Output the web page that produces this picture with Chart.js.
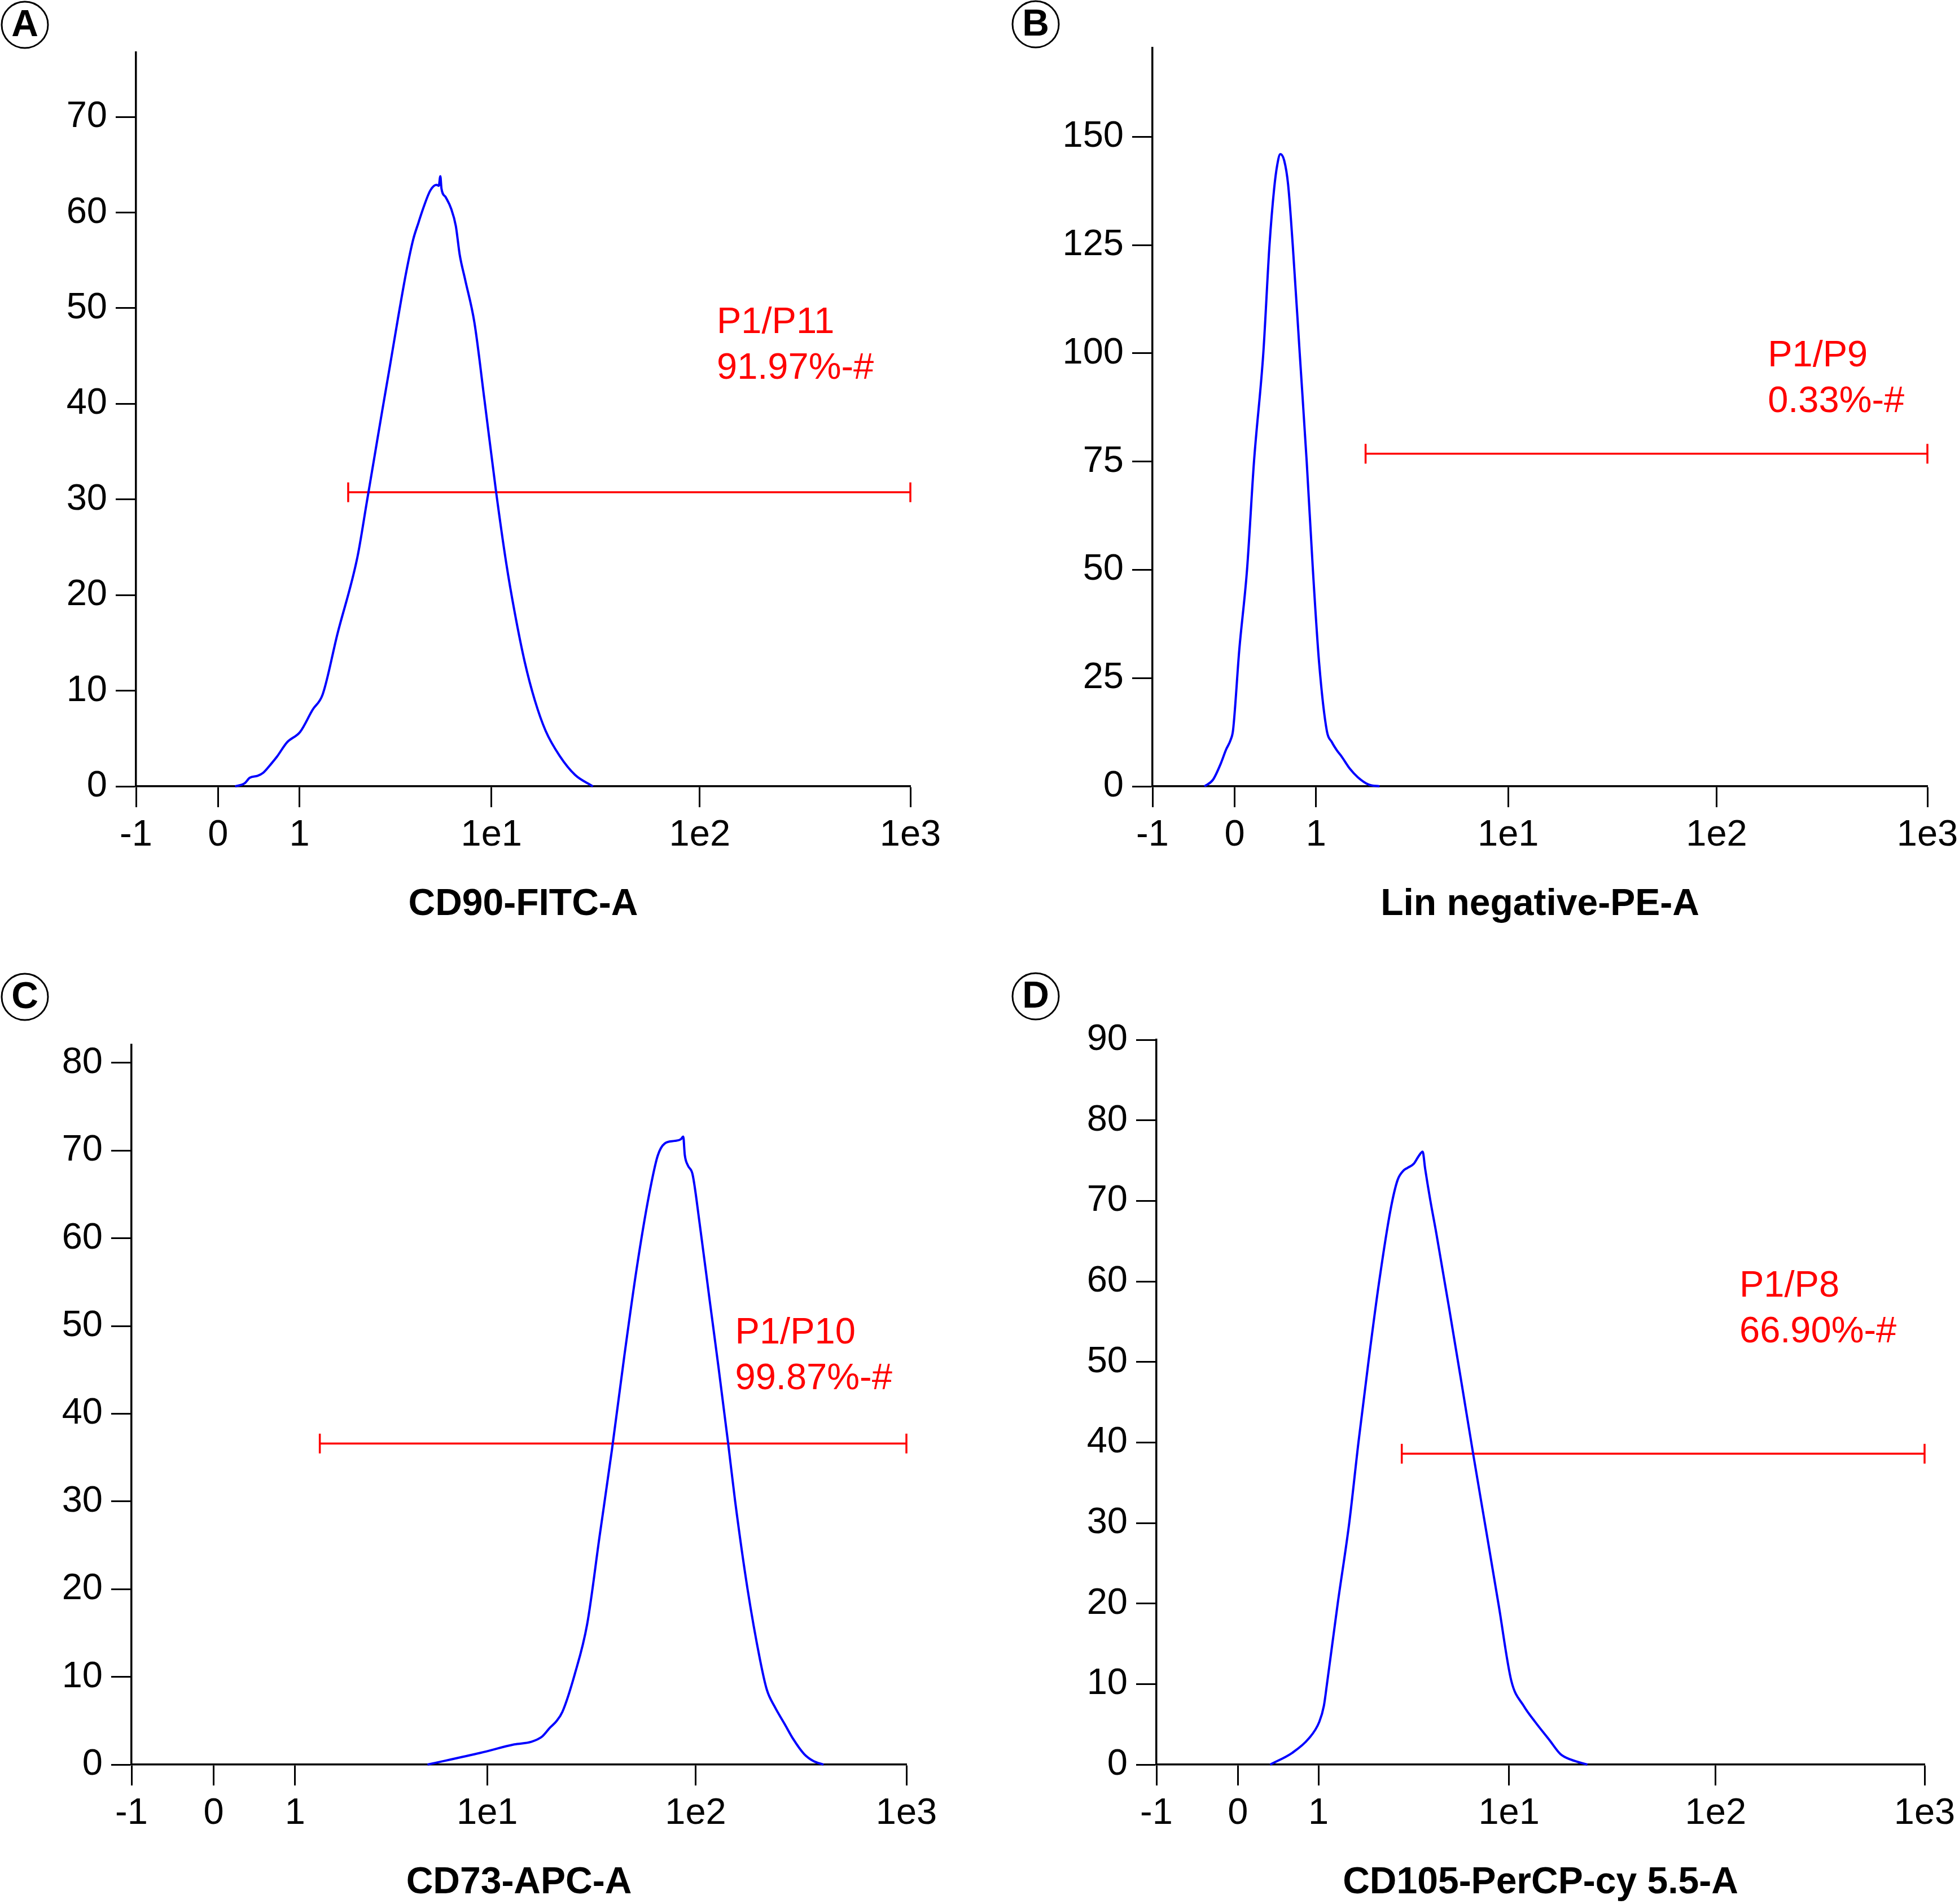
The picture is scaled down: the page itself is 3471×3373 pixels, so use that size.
<!DOCTYPE html>
<html>
<head>
<meta charset="utf-8">
<title>Flow cytometry histograms</title>
<script src="https://cdn.jsdelivr.net/npm/chart.js@4.4.1/dist/chart.umd.min.js"></script>
<style>
  html,body{margin:0;padding:0;background:#fff;}
  #wrap{position:relative;width:3471px;height:3373px;overflow:hidden;}
  canvas{position:absolute;}
</style>
</head>
<body>
<div id="wrap">
  <canvas id="chartA" width="1735" height="1686" style="left:0;top:0"></canvas>
  <canvas id="chartB" width="1736" height="1686" style="left:1735px;top:0"></canvas>
  <canvas id="chartC" width="1735" height="1687" style="left:0;top:1686px"></canvas>
  <canvas id="chartD" width="1736" height="1687" style="left:1735px;top:1686px"></canvas>
</div>
<script>
'use strict';

// x axis is in display channels 0..1000 (biexponential display of the cytometer)
let xTickChannels=[0,106,211,459,728,1000];
let xTickLabels=['-1','0','1','1e1','1e2','1e3'];

////////////////////////// A  CD90 //////////////////////////
let chA=[128,140,147,157,164,175,182,195,212,228,241,260,286,298,308,318,328,338,349,358,365,369,380,388,391,393,394.5,400,407,413,418,425,437,450,465,478,489,502,515,529,547,567,590];
let cntA=[0,0.3,0.9,1.1,1.4,2.4,3.1,4.6,5.7,8.0,9.6,15.9,24,29.7,34.5,39.3,44,48.8,53.8,57.2,59,60,62.3,62.9,62.8,63.8,62.5,61.6,60.4,58.6,55.6,53,48.5,40.4,30.8,23.4,18.2,13,9,5.8,3.2,1.2,0];
let yTicksA=[0,10,20,30,40,50,60,70];
let gateA=[274,1000];
let gateLevelA=30.75;
let textA=['P1/P11','91.97%-#'];
let textAtA=[750,47.4];

////////////////////////// B  Lin negative //////////////////////////
let chB=[67,78,88,95,101,104,112,122,131,143,151,157,161,165,170,175,181,190,199,207,215,225,231.5,238,244,255,265,279,293];
let cntB=[0,1.5,5.2,8.5,10.8,13,31.5,50,75,100,125,138,143.5,146,144.5,139,125,100,75,50,28.6,12.8,10.2,8.3,6.9,4.0,2.1,0.4,0];
let yTicksB=[0,25,50,75,100,125,150];
let gateB=[275,1000];
let gateLevelB=76.8;
let textB=['P1/P9','0.33%-#'];
let textAtB=[794,97.0];

////////////////////////// C  CD73 //////////////////////////
let chC=[382,451,494,516,530,540,548,556,572,588,604,620,636,652,668,679,688,701,709,712,714,718,724,733,746,757.5,770,779,795,811,820,830,843,854,868,880,893];
let cntC=[0,1.35,2.3,2.6,3.2,4.2,4.9,6.0,10.3,16,26,35.9,46.6,56.6,65,69.4,70.8,71.1,71.3,71.6,69.5,68.3,67.3,61.8,53,45.3,36.6,30,20,12,8.5,6.6,4.6,2.9,1.2,0.4,0];
let yTicksC=[0,10,20,30,40,50,60,70,80];
let gateC=[243,1000];
let gateLevelC=36.6;
let textC=['P1/P10','99.87%-#'];
let textAtC=[779,48.0];

////////////////////////// D  CD105 //////////////////////////
let chD=[148,177,198,212,218,222,236,251,263,276,290,305,314,322,327,335,341.7,346.6,349.8,356.3,364.5,380.8,397,413,429.5,445.7,462,478,493,512,526,540,561];
let cntD=[0,1.47,3.2,5.3,7.3,10,20,30,40,50,60,69,72.6,73.8,74.1,74.6,75.6,76.1,74,70.2,65.9,56.8,47.5,38.2,28.9,19.7,10.4,7.3,5.3,3.0,1.3,0.6,0];
let yTicksD=[0,10,20,30,40,50,60,70,80,90];
let gateD=[319.4,1000];
let gateLevelD=38.6;
let textD=['P1/P8','66.90%-#'];
let textAtD=[759,58.1];

const FONT='"Liberation Sans", Arial, Helvetica, sans-serif';

// circled panel letter + red gate text
function decoPlugin(letter,cx,cy,lines,at){
    return {
        id:'deco'+letter,
        afterDraw(chart){
            let ctx=chart.ctx;
            ctx.save();
            ctx.strokeStyle='#000';
            ctx.lineWidth=3;
            ctx.beginPath();
            ctx.arc(cx,cy,41,0,Math.PI*2);
            ctx.stroke();
            ctx.fillStyle='#000';
            ctx.font='bold 66px '+FONT;
            ctx.textAlign='center';
            ctx.textBaseline='middle';
            ctx.fillText(letter,cx,cy+2);

            let tx=chart.scales.x.getPixelForValue(at[0]);
            let ty=chart.scales.y.getPixelForValue(at[1]);
            ctx.fillStyle='#ff0000';
            ctx.font='65px '+FONT;
            ctx.textAlign='left';
            ctx.textBaseline='alphabetic';
            for(let i=0;i<lines.length;i++){
                ctx.fillText(lines[i],tx,ty+i*81);
            }
            ctx.restore();
        }
    };
}

function makePanel(p){
    let curve=p.ch.map((c,i)=>({x:c,y:p.cnt[i]}));
    let gate=p.gate.map(c=>({x:c,y:p.gateLevel}));
    return new Chart(document.getElementById(p.id),{
        type:'line',
        data:{
            datasets:[{
                data:curve,
                borderColor:'#0000ff',
                borderWidth:4,
                pointRadius:0,
                cubicInterpolationMode:'monotone',
                fill:false,
                clip:false
            },{
                data:gate,
                borderColor:'#ff0000',
                borderWidth:3.5,
                pointStyle:'line',
                rotation:90,
                pointRadius:17.5,
                pointBorderColor:'#ff0000',
                pointBorderWidth:3.5,
                fill:false,
                clip:false
            }]
        },
        options:{
            responsive:false,
            animation:false,
            events:[],
            layout:{padding:p.pad},
            plugins:{legend:{display:false},tooltip:{enabled:false}},
            scales:{
                x:{
                    type:'linear',
                    min:0,
                    max:1000,
                    afterBuildTicks:ax=>{ax.ticks=xTickChannels.map(v=>({value:v}));},
                    // fixed box; end labels may hang over the plot edges
                    afterFit:ax=>{ax.height=243;ax.paddingLeft=0;ax.paddingRight=0;},
                    ticks:{autoSkip:false,maxRotation:0,color:'#000',padding:11,
                        font:{family:FONT,size:65},
                        callback:(v,i)=>xTickLabels[i]},
                    grid:{drawOnChartArea:false,drawTicks:true,tickLength:37,tickWidth:3,tickColor:'#000'},
                    border:{display:true,color:'#000',width:3.5},
                    title:{display:true,text:p.title,color:'#000',padding:0,
                        font:{family:FONT,size:66,weight:'bold',lineHeight:1}}
                },
                y:{
                    type:'linear',
                    min:0,
                    max:p.yMax,
                    afterBuildTicks:ax=>{ax.ticks=p.yTicks.map(v=>({value:v}));},
                    afterFit:ax=>{ax.width=200;},
                    ticks:{color:'#000',padding:15,font:{family:FONT,size:65},
                        callback:v=>String(v)},
                    grid:{drawOnChartArea:false,drawTicks:true,tickLength:36,tickWidth:3,tickColor:'#000'},
                    border:{display:true,color:'#000',width:3.5}
                }
            }
        },
        plugins:[decoPlugin(p.letter,p.cx,p.cy,p.text,p.textAt)]
    });
}

makePanel({id:'chartA',letter:'A',cx:44,cy:44,title:'CD90-FITC-A',ch:chA,cnt:cntA,yTicks:yTicksA,yMax:76.74,
    gate:gateA,gateLevel:gateLevelA,text:textA,textAt:textAtA,pad:{left:41,right:122,top:93,bottom:50}});
makePanel({id:'chartB',letter:'B',cx:100,cy:43,title:'Lin negative-PE-A',ch:chB,cnt:cntB,yTicks:yTicksB,yMax:170.5,
    gate:gateB,gateLevel:gateLevelB,text:textB,textAt:textAtB,pad:{left:107,right:56,top:85,bottom:50}});
makePanel({id:'chartC',letter:'C',cx:44,cy:80,title:'CD73-APC-A',ch:chC,cnt:cntC,yTicks:yTicksC,yMax:82.05,
    gate:gateC,gateLevel:gateLevelC,text:textC,textAt:textAtC,pad:{left:33,right:129,top:165,bottom:4}});
makePanel({id:'chartD',letter:'D',cx:100,cy:79,title:'CD105-PerCP-cy 5.5-A',ch:chD,cnt:cntD,yTicks:yTicksD,yMax:90,
    gate:gateD,gateLevel:gateLevelD,text:textD,textAt:textAtD,pad:{left:114,right:61,top:156,bottom:4}});
</script>
</body>
</html>
